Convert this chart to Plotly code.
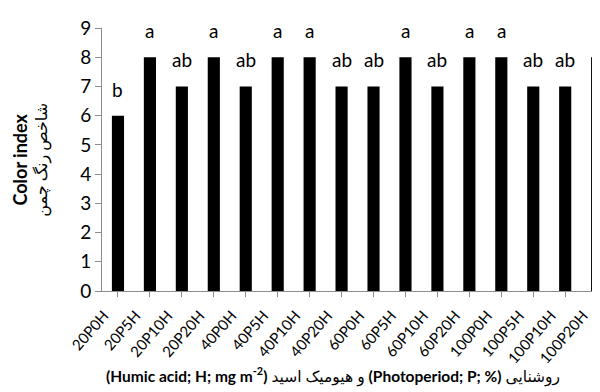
import plotly.graph_objects as go

categories = ["20P0H", "20P5H", "20P10H", "20P20H", "40P0H", "40P5H", "40P10H", "40P20H",
              "60P0H", "60P5H", "60P10H", "60P20H", "100P0H", "100P5H", "100P10H", "100P20H"]
color_index = [6, 8, 7, 8, 7, 8, 8, 7, 7, 8, 7, 8, 8, 7, 7, 8]
letters = ["b", "a", "ab", "a", "ab", "a", "a", "ab", "ab", "a", "ab", "a", "a", "ab", "ab", "a"]
y_ticks = list(range(0, 10))

FONT = "Lato, 'DejaVu Sans', sans-serif"
AXIS_GREY = "#8c8c8c"

fig = go.Figure()
fig.add_trace(go.Bar(
    x=list(range(len(categories))),
    y=color_index,
    marker=dict(color="black", line=dict(width=0)),
    showlegend=False,
    hoverinfo="skip",
))

for i, (v, t) in enumerate(zip(color_index, letters)):
    fig.add_annotation(x=i, y=v, text=t, showarrow=False, yanchor="bottom",
                       yshift=13, font=dict(family=FONT, size=19, color="black"))

# y-axis title
fig.add_annotation(
    xref="paper", yref="paper", x=-0.142, y=0.5,
    text="<b><span style='font-size:18px'>Color index</span></b><br>شاخص رنگ چمن",
    textangle=-90, showarrow=False, xanchor="center", yanchor="middle",
    font=dict(family=FONT, size=16, color="black"),
)

# x-axis title (visual order, LTR base)
fig.add_annotation(
    xref="paper", yref="paper", x=0.456, y=-0.32,
    text="<b>(Humic acid; H; mg m<sup>-2</sup>)</b> و هیومیک اسید <b>(Photoperiod; P; %)</b> روشنایی",
    showarrow=False, xanchor="center", yanchor="middle",
    font=dict(family=FONT, size=15.5, color="black"),
)

fig.update_layout(
    width=600, height=392,
    margin=dict(l=94, r=0, t=20, b=109),
    paper_bgcolor="white", plot_bgcolor="white",
    bargap=0.62,
    font=dict(family=FONT, color="black"),
)
fig.update_xaxes(
    range=[-0.5, 15.34],
    tickmode="array", tickvals=list(range(len(categories))), ticktext=categories,
    tickangle=-49, tickfont=dict(family=FONT, size=15, color="black"),
    ticklabelshift=-14, ticklabelstandoff=4,
    showline=True, linecolor=AXIS_GREY, linewidth=1,
    ticks="outside", ticklen=5, tickcolor=AXIS_GREY, tickson="boundaries",
    showgrid=False, zeroline=False,
)
fig.update_yaxes(
    range=[0, 9], tickvals=y_ticks,
    tickfont=dict(family=FONT, size=19, color="black"),
    showline=True, linecolor=AXIS_GREY, linewidth=1,
    ticks="outside", ticklen=6, tickcolor=AXIS_GREY,
    showgrid=False, zeroline=False,
)

fig.write_html("out.html")
